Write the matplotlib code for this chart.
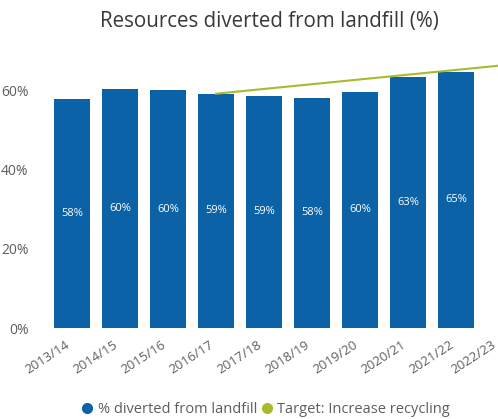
import numpy as np
import matplotlib.pyplot as plt
import matplotlib.transforms as mtransforms
from matplotlib.lines import Line2D

# данные
years = ["2013/14", "2014/15", "2015/16", "2016/17", "2017/18",
         "2018/19", "2019/20", "2020/21", "2021/22", "2022/23"]
diverted = [57.7, 60.2, 60.0, 59.1, 58.6, 58.1, 59.6, 63.2, 64.7]
target_years = ["2016/17", "2022/23"]
target_values = [59.1, 66.3]

bar_color = "#0B62A6"
line_color = "#A9BA2F"
text_gray = "#605E5C"

plt.rcParams['font.family'] = ['Open Sans', 'DejaVu Sans']

fig = plt.figure(figsize=(4.98, 4.19), dpi=100)
ax = fig.add_axes([48/498, 91/419, 480/498, 277.5/419])

x = np.arange(len(years))
ax.bar(x[:len(diverted)], diverted, width=0.73, color=bar_color, zorder=2)

# подписи значений внутри столбцов
for xi, v in zip(x, diverted):
    ax.text(xi, v / 2, f"{v:.0f}%", color="white", fontsize=8,
            ha="center", va="center", zorder=3)

# линия цели
tx = [years.index(y) for y in target_years]
ax.plot(tx, target_values, color=line_color, linewidth=1.5, zorder=4,
        clip_on=False)

ax.set_xlim(-0.5, len(years) - 0.5)
ax.set_ylim(0, 70)
ax.set_yticks([0, 20, 40, 60])
ax.set_yticklabels(["0%", "20%", "40%", "60%"], fontsize=10, color=text_gray)
ax.set_xticks(x)
ax.set_xticklabels([])
ax.tick_params(axis="y", length=0, pad=14)
ax.tick_params(axis="x", length=0)
for s in ax.spines.values():
    s.set_visible(False)

# подписи по X вручную, со сдвигом (последнюю сдвигаем сильнее, чтобы влезла)
for xi, lab in zip(x, years):
    dx = -13 if xi == len(years) - 1 else -7
    shift = mtransforms.ScaledTranslation(dx/100, -10/100, fig.dpi_scale_trans)
    ax.text(xi, 0, lab, transform=ax.get_xaxis_transform() + shift,
            rotation=33, rotation_mode="anchor", ha="right", va="top",
            fontsize=9.5, color=text_gray, clip_on=False)

fig.text(0.541, 0.948, "Resources diverted from landfill (%)", ha="center",
         va="center", fontsize=14.8, color="#3A3938")

handles = [
    Line2D([], [], marker="o", linestyle="", color=bar_color, markersize=7),
    Line2D([], [], marker="o", linestyle="", color=line_color, markersize=7),
]
fig.legend(handles, ["% diverted from landfill", "Target: Increase recycling"],
           loc="center", bbox_to_anchor=(0.534, 0.022), ncol=2, frameon=False,
           fontsize=10.5, handletextpad=0.3, columnspacing=0.3,
           handlelength=0.8, labelcolor=text_gray)

fig.savefig("out.png", dpi=100)
